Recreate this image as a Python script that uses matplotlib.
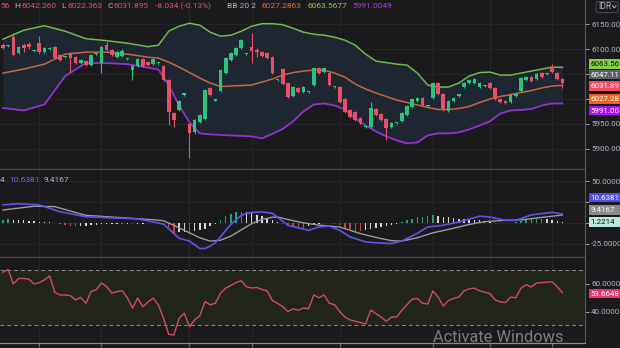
import numpy as np
import matplotlib.pyplot as plt
from matplotlib.patches import Rectangle, FancyBboxPatch
from matplotlib.lines import Line2D

plt.rcParams['font.family'] = ['Roboto', 'DejaVu Sans']
plt.rcParams['axes.unicode_minus'] = False

# --- candles (one per bar, left to right) ---
opens = [6108, 6106, 6124, 6092, 6108, 6110, 6096, 6112, 6094, 6100,
         6104, 6088, 6084, 6092, 6084, 6072, 6076, 6068, 6090, 6072,
         6108, 6098, 6085, 6086, 6081, 6058, 6066, 6081, 6075, 6070,
         6072, 6066, 6038, 5971, 5977, 6009, 5949, 5934, 5953, 5959,
         6022, 5997, 6016, 6052, 6078, 6088, 6102, 6090, 6104, 6098,
         6094, 6092, 6084, 6038, 6060, 6032, 6007, 6022, 6014, 6014,
         6028, 6062, 6054, 6052, 6024, 6024, 6001, 5977, 5973, 5961,
         5943, 5943, 5979, 5969, 5959, 5943, 5951, 5955, 5967, 5983,
         5995, 6003, 5985, 6003, 6032, 6011, 5975, 5995, 6007, 6024,
         6032, 6032, 6024, 6026, 6032, 6022, 6001, 5997, 5993, 6007,
         6016, 6038, 6044, 6040, 6052, 6050, 6062, 6052, 6040.56]
highs = [6112, 6109, 6132, 6106, 6113, 6114, 6098, 6126, 6104, 6104,
         6106, 6090, 6086, 6094, 6086, 6080, 6078, 6090, 6092, 6106,
         6115, 6100, 6097, 6100, 6083, 6068, 6083, 6083, 6077, 6082,
         6074, 6068, 6040, 5973, 5999, 6011, 5951, 5959, 5969, 6020,
         6024, 5999, 6060, 6084, 6094, 6104, 6120, 6092, 6132, 6102,
         6096, 6094, 6086, 6040, 6062, 6034, 6026, 6024, 6026, 6016,
         6064, 6064, 6064, 6054, 6026, 6026, 6003, 5979, 5975, 5963,
         5945, 5993, 5981, 5971, 5961, 5953, 5953, 5973, 5987, 6003,
         6005, 6005, 5987, 6034, 6034, 6013, 5999, 6005, 6009, 6034,
         6040, 6042, 6034, 6028, 6034, 6024, 6003, 5999, 6011, 6009,
         6044, 6046, 6046, 6052, 6054, 6052, 6070, 6054, 6042.26]
lows = [6100, 6104, 6086, 6090, 6094, 6100, 6094, 6090, 6092, 6098,
        6080, 6076, 6082, 6054, 6070, 6070, 6066, 6066, 6088, 6052,
        6096, 6086, 6083, 6084, 6079, 6038, 6064, 6064, 6066, 6068,
        6070, 6036, 5947, 5943, 5975, 6007, 5881, 5930, 5951, 5957,
        6007, 5995, 6014, 6050, 6076, 6086, 6100, 6088, 6072, 6084,
        6084, 6080, 6050, 6036, 6028, 6003, 6005, 6012, 6012, 6012,
        6026, 6050, 6052, 6026, 6022, 5991, 5971, 5961, 5955, 5949,
        5941, 5941, 5965, 5955, 5917, 5941, 5949, 5953, 5965, 5981,
        5993, 5985, 5983, 6001, 6009, 5975, 5973, 5993, 6005, 6022,
        6030, 6030, 6022, 6024, 6020, 5999, 5991, 5989, 5991, 6005,
        6014, 6036, 6034, 6038, 6042, 6048, 6052, 6038, 6022.363]
closes = [6102, 6107, 6088, 6104, 6102, 6104, 6096.5, 6094, 6102, 6102,
          6082, 6078, 6084.5, 6082, 6072, 6078, 6068, 6088, 6090.5, 6104,
          6098, 6088, 6095, 6096, 6081.5, 6066, 6081, 6066, 6068, 6080,
          6072.5, 6038, 5973, 5957, 5997, 6009.5, 5931, 5957, 5967, 6018,
          6009, 5997.5, 6058, 6082, 6092, 6102, 6118, 6090.5, 6096, 6094,
          6086, 6082, 6052, 6038.5, 6030, 6005, 6024, 6014, 6024, 6014.5,
          6062, 6052, 6062, 6028, 6024.5, 5993, 5973, 5963, 5957, 5951,
          5943.5, 5981, 5967, 5957, 5941, 5951, 5951.5, 5971, 5985, 6001,
          6003, 5987, 5985.5, 6032, 6011, 5977, 5997, 6003, 6007.5, 6032,
          6038, 6040, 6032, 6026.5, 6022, 6001, 5993, 5991, 6009, 6007.5,
          6042, 6044, 6036, 6050, 6044, 6050.5, 6054, 6039.929, 6031.895]

# --- Bollinger bands (20, 2), sampled every few bars ---
bb_idx = [0, 4, 8, 12, 16, 20, 24, 28, 30, 32, 34, 36, 38, 40, 42, 44, 46, 48,
          50, 52, 54, 56, 58, 60, 62, 64, 66, 68, 70, 72, 74, 76, 78, 80, 82,
          84, 86, 88, 90, 92, 94, 96, 98, 100, 102, 104, 106, 108]
bb_upper = [6120, 6138, 6147, 6136, 6121, 6117, 6112, 6105, 6108, 6136, 6146,
            6152, 6148, 6134, 6126, 6128, 6136, 6146, 6151, 6151, 6149, 6142,
            6134, 6130, 6128, 6124, 6118, 6108, 6090, 6076, 6073, 6070, 6068,
            6052, 6028, 6024, 6024, 6032, 6046, 6053, 6054, 6048, 6048, 6052,
            6056, 6060, 6064, 6063.5677]
bb_mid = [6052, 6060, 6070, 6090, 6094, 6094, 6090, 6084, 6082, 6074, 6064,
          6053, 6042, 6032, 6025, 6026, 6027, 6028, 6034, 6040, 6048, 6053,
          6056, 6058, 6058, 6052, 6044, 6030, 6020, 6012, 6005, 5998, 5993,
          5988, 5983, 5979, 5979, 5981, 5985, 5993, 6000, 6005, 6009, 6013,
          6017, 6022, 6026, 6027.2863]
bb_lower = [5982, 5977, 5989, 6046, 6072, 6072, 6070, 6063, 6059, 6028, 5987,
            5953, 5931, 5929, 5928, 5927, 5926, 5925, 5921, 5930, 5940, 5955,
            5975, 5989, 5991, 5987, 5979, 5961, 5947, 5935, 5925, 5917, 5911,
            5913, 5927, 5931, 5931, 5933, 5939, 5947, 5955, 5971, 5977, 5978,
            5980, 5987, 5991, 5991.0049]
ref_price = 6047.11

# --- MACD ---
macd_idx = [0, 3, 7, 11, 16, 21, 26, 31, 34, 36, 38, 39, 40, 41, 42, 43, 44,
            45, 46, 47, 48, 50, 52, 54, 55, 59, 61, 63, 65, 67, 70, 72, 75, 77,
            80, 82, 85, 88, 92, 94, 97, 99, 102, 106, 108]
macd_line = [21.6, 23, 21.6, 13.4, 7.3, 6, 4.8, -1.6, -18.6, -22, -31, -31,
             -28, -24, -17, -9, -2, 4, 9, 11.5, 12.5, 13.2, 11.5, 2, -3, -9,
             -5, -4, -9, -17, -23, -24, -25, -22, -12.6, -5, -3, 1, 8, 7, 3, 3,
             9.6, 12.6, 10.6381]
sig_idx = [0, 6, 10, 16, 21, 29, 31, 33, 35, 38, 40, 42, 44, 46, 48, 50, 52,
           53, 55, 58, 61, 65, 69, 73, 75, 77, 80, 83, 86, 90, 93, 97, 100,
           104, 108]
sig_line = [15.5, 20, 19.5, 9, 7, 3.7, 2.5, -3, -9, -18, -22, -21, -16, -8.5,
            -1, 4, 6.8, 7, 4, 0, -2.8, -5, -13, -19, -21.5, -22, -18, -12, -8,
            -2, 1.5, 3, 3.5, 6.5, 9.4167]
macd_hist = [4, 4.5, 4, 3.5, 3, 2.5, 2, 1.5, 1,
             0.5, 0.1, -1, -2.5,
             -3.5, -4, -4, -3.5, -3, -2.5, -2, -1.5, -1.2,
             -1, -1.2, -1, -1.5, -1.2, -1, -0.8, -0.6, -1,
             -3, -8, -12, -11.5, -11, -12, -10, -9,
             -7, -4, -1, 4, 8, 11, 12.5, 13, 12.5,
             11.5, 10, 8, 6, 3.5, 1,
             -2, -4, -5.5, -6, -6.5,
             -4, -2, -1, -0.5, -0.5, -1, -3,
             -6, -8, -9.5, -10, -9,
             -7.5, -6, -5, -4, -2.5, -1, 0.5,
             3, 5, 6.5, 7.5, 8.5, 9, 8,
             7, 6.5, 6, 5, 4.5, 4, 3.5, 3, 2,
             0.8, 0.3, -0.3, -0.5, -0.2, 0.4,
             2.5, 3.5, 4.5, 5, 5.2, 4.5, 3.5, 2.5, 1.2214]

# --- RSI (14) ---
rsi = [68.5, 70.5, 60, 64, 64, 63.5, 60, 61, 63, 65.8,
       54, 52, 52, 51.6, 48.5, 50.2, 46, 54.6, 55.9, 60.7,
       58.2, 53.4, 54.5, 55.1, 50, 42.5, 49.8, 43.6, 47, 49.8,
       44.9, 35, 23.5, 23, 35.2, 38.8, 29, 34, 36.9, 47.3,
       44.9, 46, 53.4, 57, 59, 61, 62.4, 58, 57.1, 57.5,
       56, 55, 48, 46, 43.6, 40, 42, 41, 42.6, 42,
       52, 50, 52, 46, 45, 40, 36, 34, 33, 32,
       31, 41, 38.5, 36, 33, 36, 36, 41, 45, 49,
       49.5, 46, 45.5, 55, 50.5, 44, 48, 49.5, 50.5, 55,
       56.5, 57, 55, 54, 53, 48.5, 47, 46.5, 50.5, 50,
       57, 59.5, 57.8, 60.7, 61, 61.3, 61.6, 58, 53.6648]

day_lines = [7, 19, 36, 48, 65, 83, 94, 106]

BG = '#1a1a1c'
GRID = '#28282c'
TXT = '#b2b5be'
UP, DOWN = '#2ec27e', '#e8506a'

W, H = 620, 348
def fx(px):
    return px / W
def fy(py):
    return 1 - py / H

fig = plt.figure(figsize=(6.2, 3.48), dpi=100, facecolor=BG)
ax = fig.add_axes([0, fy(168.5), fx(585), 168.5 / H])
ax_m = fig.add_axes([0, fy(256.5), fx(585), 87 / H], sharex=ax)
ax_r = fig.add_axes([0, fy(343), fx(585), 85.5 / H], sharex=ax)

x = np.arange(len(closes))
ax.set_xlim(-0.58, 112.36)
ax.set_ylim(5860.6, 6198.6)
ax_m.set_ylim(-40.6, 64.3)
ax_r.set_ylim(17.2, 79.2)

for a in (ax, ax_m, ax_r):
    a.set_facecolor(BG)
    for s in a.spines.values():
        s.set_visible(False)
    a.spines['right'].set_visible(True)
    a.spines['right'].set_color('#56565c')
    a.spines['right'].set_linewidth(0.8)
    a.spines['bottom'].set_visible(True)
    a.spines['bottom'].set_color('#4a4a50')
    a.spines['bottom'].set_linewidth(0.9)
    a.yaxis.tick_right()
    a.tick_params(axis='y', length=3, width=0.6, colors=TXT, labelsize=5.8, pad=1.5)
    a.tick_params(axis='x', length=0, labelbottom=False)
    for d in day_lines:
        a.axvline(d, color=GRID, lw=0.7, zorder=0)
ax_r.spines['bottom'].set_color('#8a8a90')
ax_r.tick_params(axis='x', length=3, width=0.6, colors='#8a8a90')
ax_r.set_xticks(day_lines)

# price panel; levels under the value tags keep their tick but no label
price_ticks = [5900, 5950, 6000, 6050, 6100, 6150]
ax.set_yticks(price_ticks)
ax.set_yticklabels(['' if t in (6000, 6050) else '%.2f' % t for t in price_ticks])
for lv in price_ticks:
    ax.axhline(lv, color=GRID, lw=0.6, zorder=0)
ax.fill_between(bb_idx, bb_lower, bb_upper, color='#1d2631', lw=0, zorder=1)
ax.plot(bb_idx, bb_upper, color='#72b84a', lw=1.1, zorder=2)
ax.plot(bb_idx, bb_mid, color='#c5653c', lw=1.1, zorder=2)
ax.plot(bb_idx, bb_lower, color='#9330cc', lw=1.3, zorder=2)

o, h, l, c = map(np.array, (opens, highs, lows, closes))
col = np.where(c >= o, UP, DOWN)
ax.vlines(x, l, h, colors=col, lw=0.8, zorder=3)
body = np.maximum(np.abs(c - o), 2.2)
ax.bar(x, body, bottom=np.minimum(o, c), width=0.7, color=col, lw=0, zorder=4)

# MACD panel
macd_ticks = [-25, 0, 25, 50]
ax_m.set_yticks(macd_ticks)
ax_m.set_yticklabels(['' if t in (0, 25) else '%.4f' % t for t in macd_ticks])
for lv in macd_ticks:
    ax_m.axhline(lv, color=GRID, lw=0.6, zorder=0)
hist = np.array(macd_hist)
prev = np.concatenate([[hist[0]], hist[:-1]])
hcol = np.where(hist >= 0,
                np.where(hist >= prev, '#2a9d7c', '#d6d6d6'),
                np.where(hist < prev, '#c8424f', '#d6d6d6'))
ax_m.bar(x, hist, width=0.28, color=hcol, lw=0, zorder=2)
ax_m.plot(sig_idx, sig_line, color='#9a9a9e', lw=1.0, zorder=3)
ax_m.plot(macd_idx, macd_line, color='#5a55e8', lw=1.2, zorder=4)

# RSI panel
ax_r.set_yticks([40, 60])
ax_r.yaxis.set_major_formatter(plt.FormatStrFormatter('%.4f'))
for lv in (40, 60):
    ax_r.axhline(lv, color=GRID, lw=0.6, zorder=0)
ax_r.axhspan(30, 70, color='#21251c', lw=0, zorder=0.5)
for lv in (30, 70):
    ax_r.axhline(lv, color='#8a8a8a', lw=0.7, ls=(0, (4, 3)), zorder=1)
ax_r.plot(x, rsi, color='#d04a68', lw=1.0, zorder=3)

# header legends
def seg(px, py, s, color, size=6.0):
    fig.text(fx(px), fy(py), s, color=color, fontsize=size, va='center', ha='left')

RED = '#d9536a'
seg(0, 6.5, '56', RED)
seg(14.5, 6.5, 'H', TXT)
seg(21, 6.5, '%.3f' % highs[-1], RED)
seg(61.5, 6.5, 'L', TXT)
seg(67.5, 6.5, '%.3f' % lows[-1], RED)
seg(107.5, 6.5, 'C', TXT)
seg(114, 6.5, '%.3f' % closes[-1], RED)
chg = closes[-1] - closes[-2]
seg(155, 6.5, '%.3f (%.2f%%)' % (chg, chg / closes[-2] * 100), RED)
seg(227, 6.5, 'BB 20 2', TXT)
seg(262, 6.5, '%.4f' % bb_mid[-1], '#e8692e')
seg(307, 6.5, '%.4f' % bb_upper[-1], '#7fd04a')
seg(352, 6.5, '%.4f' % bb_lower[-1], '#a53ee0')

seg(0, 180, '4', TXT)
seg(9, 180, '%.4f' % macd_line[-1], '#6a66f0')
seg(44, 180, '%.4f' % sig_line[-1], TXT)

# last-value tags on the price scale
def trunc2(v):
    return '%.2f' % (np.floor(v * 100) / 100)

def tag(py, s, bg, fg='white', hgt=9.4):
    fig.add_artist(Rectangle((fx(589), fy(py + hgt / 2)), fx(32), hgt / H,
                             transform=fig.transFigure, facecolor=bg,
                             edgecolor='none', zorder=5))
    fig.text(fx(590.5), fy(py + 0.3), s, color=fg, fontsize=5.7, va='center',
             ha='left', zorder=6)

tag(64.0, trunc2(bb_upper[-1]), '#82cf45', '#111111')
tag(74.5, trunc2(ref_price), '#5e6068')
tag(86.2, trunc2(closes[-1]), '#ee4d68')
tag(98.8, trunc2(bb_mid[-1]), '#f0641c')
tag(110.5, trunc2(bb_lower[-1]), '#a812f0')
tag(197.5, '%.4f' % macd_line[-1], '#4f4fe0')
tag(209.8, '%.4f' % sig_line[-1], '#8a8a8a')
tag(221.8, '%.4f' % macd_hist[-1], '#b8e8de', '#111111')
tag(293.3, '%.4f' % rsi[-1], '#e8336a')

# currency selector
fig.add_artist(FancyBboxPatch((fx(596), fy(12.5)), fx(22), 11 / H,
                              boxstyle='round,pad=0,rounding_size=0.004',
                              transform=fig.transFigure, facecolor=BG,
                              edgecolor='#4a4a50', lw=0.7, zorder=5))
fig.text(fx(598), fy(6.5), 'IDR', color=TXT, fontsize=6.2, va='center', ha='left', zorder=6)
fig.add_artist(Line2D([fx(612.5), fx(614.3), fx(616.1)], [fy(5.8), fy(7.8), fy(5.8)],
                      transform=fig.transFigure, color=TXT, lw=0.7, zorder=6))

fig.text(fx(433), fy(337), 'Activate Windows', color='#a0a0a0', alpha=0.75,
         fontsize=11.8, va='center', ha='left', zorder=7)

fig.savefig('out.png', dpi=100, facecolor=BG)
